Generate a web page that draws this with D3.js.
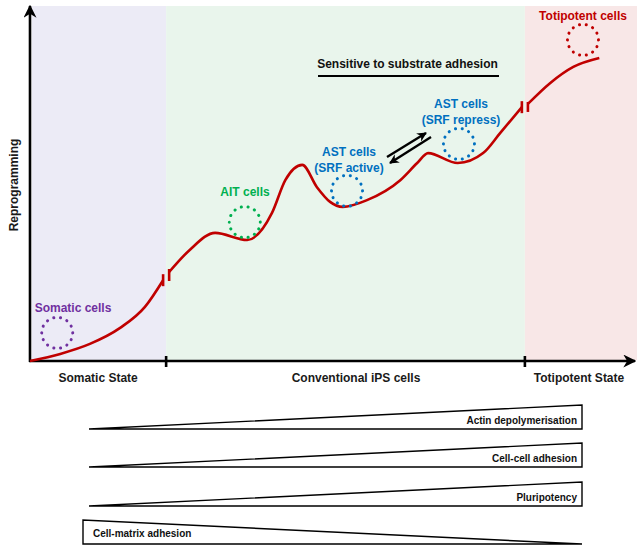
<!DOCTYPE html>
<html><head><meta charset="utf-8">
<script src="https://cdn.jsdelivr.net/npm/d3@7"></script>
<style>
html,body{margin:0;padding:0;background:#fff;}
svg{display:block;font-family:"Liberation Sans",Arial,Helvetica,sans-serif;font-weight:bold;}
</style></head>
<body>
<script>
// ---------- data (x: progression 0-100, y: reprogramming level 0-100) ----------
const zoneNames = ["Somatic State", "Conventional iPS cells", "Totipotent State"];
const zoneBounds = [0, 22.5, 81.8, 100];
const zoneColors = ["#ecebf6", "#e9f5ec", "#f8e7e7"];

const seg1X = [0, 5.0, 9.9, 14.9, 19.0, 22.0];
const seg1Y = [0, 2.0, 4.8, 9.3, 15.2, 22.7];
const seg2X = [23.0, 26.4, 30.6, 35.9, 40.0, 42.2, 45.0, 47.4, 49.6, 51.7, 55.7, 61.2, 64.0, 65.8, 70.7, 74.9, 77.7, 81.3];
const seg2Y = [25.0, 31.2, 36.0, 34.0, 41.6, 50.8, 55.1, 48.9, 44.7, 43.3, 45.2, 50.8, 55.6, 58.4, 55.6, 58.4, 64.0, 71.3];
const seg3X = [82.3, 86.0, 89.8, 94.1];
const seg3Y = [72.2, 78.1, 82.6, 85.1];

const cellNames = ["Somatic cells", "AIT cells", "AST cells\n(SRF active)", "AST cells\n(SRF repress)", "Totipotent cells"];
const cellX = [4.5, 35.5, 52.4, 70.9, 91.4];
const cellY = [7.9, 39.0, 47.8, 61.0, 90.2];
const cellColors = ["#7030a0", "#00b050", "#0070c0", "#0070c0", "#c00000"];

const gradientNames = ["Actin depolymerisation", "Cell-cell adhesion", "Pluripotency", "Cell-matrix adhesion"];
const gradientDir = ["up", "up", "up", "down"];

// ---------- layout ----------
const W = 637, H = 548;
const svg = d3.select("body").append("svg").attr("width", W).attr("height", H);
const x = d3.scaleLinear().domain([0, 100]).range([30, 635]);
const y = d3.scaleLinear().domain([0, 100]).range([361, 5]);
const red = "#c00000";

// zone backgrounds
zoneNames.forEach((n, i) => {
  const x0 = Math.max(x(zoneBounds[i]), 32);
  const x1 = i === zoneNames.length - 1 ? W : x(zoneBounds[i + 1]);
  svg.append("rect").attr("x", x0).attr("y", 6).attr("width", x1 - x0).attr("height", 354)
    .attr("fill", zoneColors[i]);
});

// arrow markers
const defs = svg.append("defs");
defs.append("marker").attr("id", "ah").attr("viewBox", "0 0 10 10").attr("refX", 9).attr("refY", 5)
  .attr("markerWidth", 5).attr("markerHeight", 5).attr("markerUnits", "strokeWidth").attr("orient", "auto")
  .append("path").attr("d", "M0,0 L10,5 L0,10 L3,5 Z").attr("fill", "#000");
defs.append("marker").attr("id", "ah2").attr("viewBox", "0 0 10 10").attr("refX", 9).attr("refY", 5)
  .attr("markerWidth", 4).attr("markerHeight", 4).attr("markerUnits", "strokeWidth").attr("orient", "auto")
  .append("path").attr("d", "M0,0 L10,5 L0,10 L3,5 Z").attr("fill", "#000");

// axes
svg.append("line").attr("x1", x(0)).attr("y1", y(0) + 1).attr("x2", x(0)).attr("y2", 6)
  .attr("stroke", "#000").attr("stroke-width", 2.6).attr("marker-end", "url(#ah)");
svg.append("line").attr("x1", x(0) - 1).attr("y1", y(0)).attr("x2", 635).attr("y2", y(0))
  .attr("stroke", "#000").attr("stroke-width", 2.6).attr("marker-end", "url(#ah)");
[zoneBounds[1], zoneBounds[2]].forEach(b => {
  svg.append("line").attr("x1", x(b)).attr("x2", x(b)).attr("y1", y(0) - 5).attr("y2", y(0) + 6)
    .attr("stroke", "#000").attr("stroke-width", 2.6);
});
// zone labels
zoneNames.forEach((n, i) => {
  let cx = (x(zoneBounds[i]) + x(zoneBounds[i + 1])) / 2;
  if (i === 2) cx = 579;
  if (i === 1) cx = 356;
  svg.append("text").attr("x", cx).attr("y", 382).attr("text-anchor", "middle")
    .attr("font-size", 12).attr("fill", "#1a1a1a").text(n);
});
svg.append("text").attr("transform", "translate(18,185) rotate(-90)").attr("text-anchor", "middle")
  .attr("font-size", 12).attr("fill", "#1a1a1a").text("Reprogramming");

// curve
const line = d3.line().x(d => x(d[0])).y(d => y(d[1])).curve(d3.curveMonotoneX);
[[seg1X, seg1Y], [seg2X, seg2Y], [seg3X, seg3Y]].forEach(([xs, ys]) => {
  svg.append("path").attr("d", line(xs.map((v, i) => [v, ys[i]])))
    .attr("fill", "none").attr("stroke", red).attr("stroke-width", 2.6).attr("stroke-linecap", "butt");
});
// break marks
const breaks = [[seg1X[seg1X.length - 1], seg1Y[seg1Y.length - 1], -6, 6],
                [seg2X[0], seg2Y[0], -3, 9],
                [seg2X[seg2X.length - 1], seg2Y[seg2Y.length - 1], -6, 6],
                [seg3X[0], seg3Y[0], -2, 8]];
breaks.forEach(([bx, by, a, b]) => {
  svg.append("line").attr("x1", x(bx)).attr("x2", x(bx)).attr("y1", y(by) + a).attr("y2", y(by) + b)
    .attr("stroke", red).attr("stroke-width", 2.6);
});

// cell circles and labels
const labelPos = [[73, 312], [245, 196], [349, 156], [461, 108], [583, 20]];
cellNames.forEach((n, i) => {
  svg.append("circle").attr("cx", x(cellX[i])).attr("cy", y(cellY[i])).attr("r", 15.5)
    .attr("fill", "none").attr("stroke", cellColors[i]).attr("stroke-width", 3)
    .attr("stroke-linecap", "round").attr("stroke-dasharray", "0.1 6.8");
  const lines = n.split("\n");
  lines.forEach((t, k) => {
    svg.append("text").attr("x", labelPos[i][0]).attr("y", labelPos[i][1] + k * 15.5)
      .attr("text-anchor", "middle").attr("font-size", 12).attr("fill", cellColors[i]).text(t);
  });
});

// sensitive label
svg.append("text").attr("x", 407.5).attr("y", 68).attr("text-anchor", "middle")
  .attr("font-size", 12).attr("fill", "#111").text("Sensitive to substrate adhesion");
svg.append("line").attr("x1", 318).attr("x2", 499).attr("y1", 76).attr("y2", 76)
  .attr("stroke", "#000").attr("stroke-width", 2);

// equilibrium arrows
svg.append("line").attr("x1", 387).attr("y1", 157).attr("x2", 426).attr("y2", 133)
  .attr("stroke", "#000").attr("stroke-width", 2.4).attr("marker-end", "url(#ah2)");
svg.append("line").attr("x1", 431).attr("y1", 137).attr("x2", 390).attr("y2", 163)
  .attr("stroke", "#000").attr("stroke-width", 2.4).attr("marker-end", "url(#ah2)");

// gradient wedges
const wedgeTop = [405, 443, 482, 520];
gradientNames.forEach((n, i) => {
  const t = wedgeTop[i], b = t + 24;
  let pts;
  if (gradientDir[i] === "up") pts = [[89, b], [582, t], [582, b]];
  else pts = [[83, t], [83, b], [582, b]];
  svg.append("path").attr("d", "M" + pts.map(p => p.join(",")).join("L") + "Z")
    .attr("fill", "#fff").attr("stroke", "#000").attr("stroke-width", 1.4).attr("stroke-linejoin", "miter");
  if (gradientDir[i] === "up")
    svg.append("text").attr("x", 577).attr("y", b - 5).attr("text-anchor", "end")
      .attr("font-size", 10).attr("fill", "#111").text(n);
  else
    svg.append("text").attr("x", 93).attr("y", b - 7).attr("text-anchor", "start")
      .attr("font-size", 10).attr("fill", "#111").text(n);
});
</script>
</body></html>
